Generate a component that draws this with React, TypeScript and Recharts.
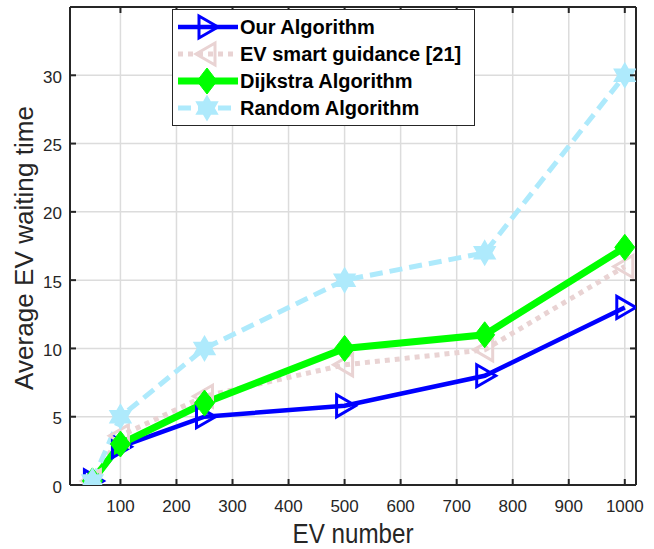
import React from 'react';
import { LineChart, Line, XAxis, YAxis, CartesianGrid, Legend } from 'recharts';

const evNumber = [50, 100, 250, 500, 750, 1000];
const ourAlgorithm = [0.3, 2.8, 5.0, 5.8, 8.0, 13.0];
const smartGuidance = [0.3, 3.6, 6.5, 8.8, 9.9, 16.0];
const dijkstra = [0.3, 3.0, 6.0, 10.0, 11.0, 17.4];
const randomAlgorithm = [0.3, 5.0, 10.0, 15.0, 17.0, 30.0];

const xTicks = [100, 200, 300, 400, 500, 600, 700, 800, 900, 1000];
const yTicks = [0, 5, 10, 15, 20, 25, 30];

const data = evNumber.map((x, i) => ({
    x,
    our: ourAlgorithm[i],
    smart: smartGuidance[i],
    dijkstra: dijkstra[i],
    random: randomAlgorithm[i],
}));

type MarkerKind = 'right' | 'left' | 'diamond' | 'hexagram';

const SERIES: { key: string; name: string; color: string; width: number; dash?: string; marker: MarkerKind }[] = [
    { key: 'our', name: 'Our Algorithm', color: '#0000ff', width: 4.5, marker: 'right' },
    { key: 'smart', name: 'EV smart guidance [21]', color: '#e9d3d3', width: 5, dash: '5 5', marker: 'left' },
    { key: 'dijkstra', name: 'Dijkstra Algorithm', color: '#00ff00', width: 7, marker: 'diamond' },
    { key: 'random', name: 'Random Algorithm', color: '#aeeafc', width: 5, dash: '13 7', marker: 'hexagram' },
];

const AXIS = '#262626';
const FONT = '"Liberation Sans", Arial, Helvetica, sans-serif';

const hexagramPoints = (cx: number, cy: number, r: number) => {
    const pts: string[] = [];
    for (let k = 0; k < 12; k++) {
        const rad = k % 2 === 0 ? r : r / Math.sqrt(3);
        const a = (Math.PI / 6) * k - Math.PI / 2;
        pts.push(`${cx + rad * Math.cos(a)},${cy + rad * Math.sin(a)}`);
    }
    return pts.join(' ');
};

const Marker = ({ kind, cx, cy, color }: { kind: MarkerKind; cx: number; cy: number; color: string }) => {
    if (cx == null || cy == null) return null;
    switch (kind) {
        case 'right':
            return <polygon points={`${cx - 8},${cy - 11} ${cx - 8},${cy + 11} ${cx + 11},${cy}`} fill="none" stroke={color} strokeWidth={3} />;
        case 'left':
            return <polygon points={`${cx + 8},${cy - 11} ${cx + 8},${cy + 11} ${cx - 11},${cy}`} fill="none" stroke={color} strokeWidth={3} />;
        case 'diamond':
            return <polygon points={`${cx},${cy - 13} ${cx + 10},${cy} ${cx},${cy + 13} ${cx - 10},${cy}`} fill={color} stroke={color} strokeWidth={1} />;
        default:
            return <polygon points={hexagramPoints(cx, cy, 12)} fill={color} stroke={color} strokeWidth={1.5} />;
    }
};

// inward ticks, MATLAB style
const BottomTick = (props: any) => {
    const { x, y, payload } = props;
    return (
        <g>
            <line x1={x} y1={y} x2={x} y2={y - 6} stroke={AXIS} strokeWidth={2} />
            <text x={x} y={y + 27} textAnchor="middle" fill={AXIS} fontSize={17} fontFamily={FONT}>{payload.value}</text>
        </g>
    );
};
const TopTick = (props: any) => {
    const { x, y } = props;
    return <line x1={x} y1={y} x2={x} y2={y + 6} stroke={AXIS} strokeWidth={2} />;
};
const LeftTick = (props: any) => {
    const { x, y, payload } = props;
    return (
        <g>
            <line x1={x} y1={y} x2={x + 6} y2={y} stroke={AXIS} strokeWidth={2} />
            <text x={x - 8} y={y + 7.5} textAnchor="end" fill={AXIS} fontSize={17} fontFamily={FONT}>{payload.value}</text>
        </g>
    );
};
const RightTick = (props: any) => {
    const { x, y } = props;
    return <line x1={x} y1={y} x2={x - 6} y2={y} stroke={AXIS} strokeWidth={2} />;
};

const renderLegend = () => (
    <svg width={303} height={117}>
        <rect x={0.5} y={0.5} width={302} height={116} fill="#fff" stroke={AXIS} strokeWidth={1} />
        {SERIES.map((s, i) => {
            const cy = 18 + i * 27;
            return (
                <g key={s.key}>
                    <line x1={6} y1={cy} x2={66} y2={cy} stroke={s.color} strokeWidth={s.width} strokeDasharray={s.dash} />
                    <Marker kind={s.marker} cx={35} cy={cy} color={s.color} />
                    <text x={68} y={cy + 7} fontSize={20} fontWeight="bold" fontFamily={FONT} fill="#000">{s.name}</text>
                </g>
            );
        })}
    </svg>
);

const XLabel = (props: any) => {
    const vb = props.viewBox || { x: 70, y: 485, width: 566, height: 64 };
    return (
        <text x={vb.x + vb.width / 2} y={vb.y + 58} textAnchor="middle" fill={AXIS} fontSize={27} fontFamily={FONT}
            textLength={121} lengthAdjust="spacingAndGlyphs">EV number</text>
    );
};

const YLabel = (props: any) => {
    const vb = props.viewBox || { x: 0, y: 7, width: 70, height: 478 };
    const cx = vb.x + 33;
    const cy = vb.y + vb.height / 2 + 2;
    return (
        <text x={cx} y={cy} transform={`rotate(-90, ${cx}, ${cy})`} textAnchor="middle" fill={AXIS} fontSize={26}
            fontFamily={FONT} textLength={284} lengthAdjust="spacingAndGlyphs">Average EV waiting time</text>
    );
};

const App: React.FC = () => {
    return (
        <div style={{ position: 'absolute', left: 0, top: 0, width: 654, height: 549, background: '#fff', fontFamily: FONT }}>
            <LineChart width={654} height={549} data={data} margin={{ top: 6, right: 17, bottom: 0, left: 0 }}>
                <CartesianGrid stroke="#dcdcdc" strokeWidth={1.5} />
                <XAxis dataKey="x" type="number" domain={[10, 1020]} ticks={xTicks} allowDataOverflow height={64}
                    tickSize={0} tickMargin={0} tickLine={false} tick={<BottomTick />}
                    axisLine={{ stroke: AXIS, strokeWidth: 2 }} label={XLabel} />
                <XAxis xAxisId="top" orientation="top" dataKey="x" type="number" domain={[10, 1020]} ticks={xTicks}
                    allowDataOverflow height={1} tickSize={0} tickMargin={0} tickLine={false} tick={<TopTick />}
                    axisLine={{ stroke: AXIS, strokeWidth: 2 }} />
                <YAxis type="number" domain={[0, 35]} ticks={yTicks} allowDataOverflow width={70}
                    tickSize={0} tickMargin={0} tickLine={false} tick={<LeftTick />}
                    axisLine={{ stroke: AXIS, strokeWidth: 2 }} label={YLabel} />
                <YAxis yAxisId="right" orientation="right" type="number" domain={[0, 35]} ticks={yTicks} allowDataOverflow
                    width={1} tickSize={0} tickMargin={0} tickLine={false} tick={<RightTick />}
                    axisLine={{ stroke: AXIS, strokeWidth: 2 }} />
                {SERIES.map(s => (
                    <Line key={s.key} dataKey={s.key} name={s.name} type="linear" stroke={s.color} strokeWidth={s.width}
                        strokeDasharray={s.dash} isAnimationActive={false} activeDot={false}
                        dot={(p: any) => <Marker key={`${s.key}-${p.index}`} kind={s.marker} cx={p.cx} cy={p.cy} color={s.color} />} />
                ))}
                <Legend layout="vertical" align="center" verticalAlign="middle" content={renderLegend}
                    wrapperStyle={{ position: 'absolute', left: 172, top: 9, width: 303, height: 117 }} />
            </LineChart>
        </div>
    );
};

export default App;
